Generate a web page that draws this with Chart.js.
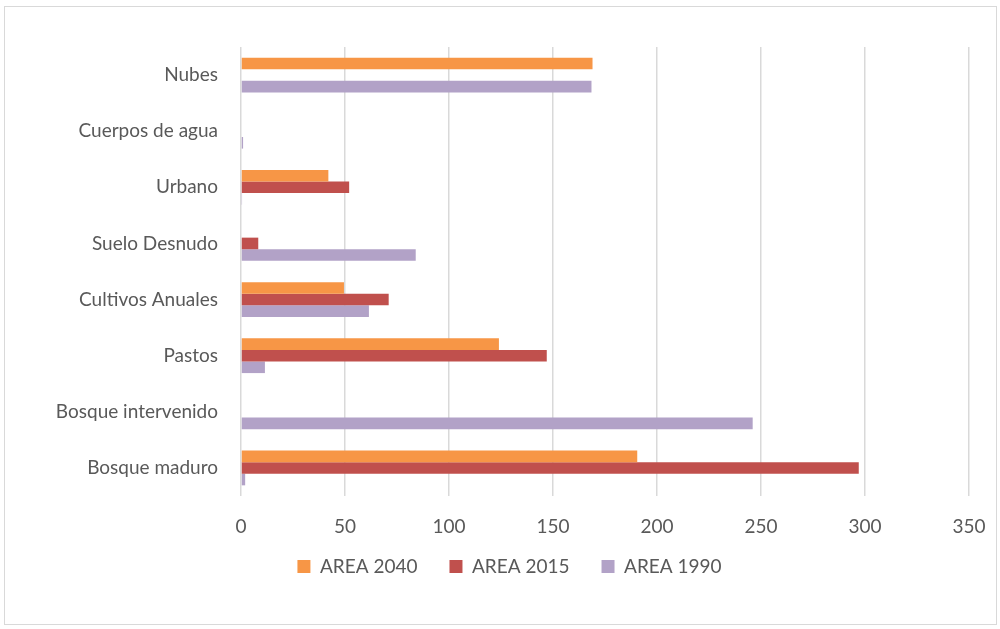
<!DOCTYPE html>
<html>
<head>
<meta charset="utf-8">
<script src="https://cdn.jsdelivr.net/npm/chart.js@4.4.1/dist/chart.umd.min.js"></script>
<style>
  html, body { margin: 0; padding: 0; background: #fff; }
  #wrap { position: relative; width: 1000px; height: 629px; }
  #frame { position: absolute; left: 4px; top: 6px; width: 993px; height: 619px; border: 1px solid #d9d9d9; box-sizing: border-box; pointer-events: none; }
  canvas { position: absolute; left: 0; top: 0; }
</style>
</head>
<body>
<div id="wrap">
  <canvas id="chart" width="1000" height="629"></canvas>
  <div id="frame"></div>
</div>
<script>
const categories = [
  "Nubes",
  "Cuerpos de agua",
  "Urbano",
  "Suelo Desnudo",
  "Cultivos Anuales",
  "Pastos",
  "Bosque intervenido",
  "Bosque maduro",
];
const area2040 = [169, 0, 42, 0, 49.5, 124, 0, 190.5];
const area2015 = [0, 0, 52, 8.3, 71, 147, 0, 297];
const area1990 = [168.5, 1, 0.5, 84, 61.5, 11.5, 246, 2];
const xTicks = [0, 50, 100, 150, 200, 250, 300, 350];

const FONT = "Lato, 'Open Sans', sans-serif";
const TEXT = "#595959";

// legend in the original sits right of the canvas centre and close under the axis
const shiftLegend = {
  id: "shiftLegend",
  afterLayout(chart) {
    const lg = chart.legend;
    lg.left += 25;
    lg.right += 25;
    lg.top -= 16;
    lg.bottom -= 16;
  },
};

new Chart(document.getElementById("chart").getContext("2d"), {
  type: "bar",
  data: {
    labels: categories,
    datasets: [
      { label: "AREA 2040", data: area2040, backgroundColor: "#F79646" },
      { label: "AREA 2015", data: area2015, backgroundColor: "#C0504D" },
      { label: "AREA 1990", data: area1990, backgroundColor: "#B2A2C7" },
    ],
  },
  plugins: [shiftLegend],
  options: {
    indexAxis: "y",
    responsive: false,
    animation: false,
    layout: { padding: { top: 47, right: 31, bottom: 27, left: 0 } },
    datasets: {
      bar: { categoryPercentage: 0.62, barPercentage: 1.0 },
    },
    plugins: {
      legend: {
        position: "bottom",
        labels: {
          color: TEXT,
          font: { family: FONT, size: 19 },
          boxWidth: 13,
          boxHeight: 13,
          padding: 32,
        },
      },
      tooltip: { enabled: false },
    },
    scales: {
      x: {
        min: 0,
        max: 350,
        afterBuildTicks: (s) => { s.ticks = xTicks.map((v) => ({ value: v })); },
        grid: { color: "#d9d9d9", lineWidth: 1.5, drawTicks: false },
        border: { display: false },
        ticks: { color: TEXT, font: { family: FONT, size: 19 }, padding: 19 },
        afterFit: (s) => {
          s.height = 45;
          s.paddingLeft = 0;
          s.paddingRight = 0;
        },
      },
      y: {
        grid: { display: false, drawTicks: false },
        border: { display: false },
        ticks: { color: TEXT, font: { family: FONT, size: 19 }, padding: 23 },
        afterFit: (s) => { s.width = 241; },
      },
    },
  },
});
</script>
</body>
</html>
